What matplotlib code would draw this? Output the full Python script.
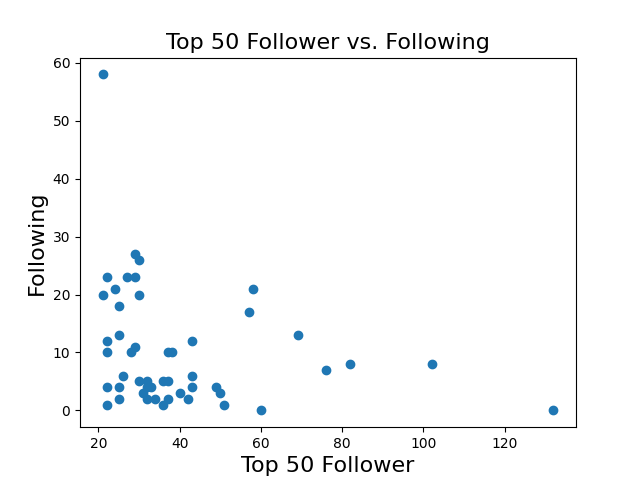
import matplotlib
matplotlib.use("Agg")
import matplotlib.pyplot as plt

follower = [21,22,29,30,27,29,24,21,30,25,57,58,69,76,82,102,132,60,
            22,25,22,28,29,37,38,43,
            26,22,25,30,32,36,37,43,43,49,50,
            22,25,31,32,33,32,34,37,36,40,42,51]
following = [58,23,27,26,23,23,21,20,20,18,17,21,13,7,8,8,0,0,
             12,13,10,10,11,10,10,12,
             6,4,4,5,5,5,5,6,4,4,3,
             1,2,3,4,4,2,2,2,1,3,2,1]

fig, ax = plt.subplots(figsize=(6.4, 4.8), dpi=100)
ax.scatter(follower, following)
ax.set_title("Top 50 Follower vs. Following", fontsize=16)
ax.set_xlabel("Top 50 Follower", fontsize=16)
ax.set_ylabel("Following", fontsize=16)
fig.savefig("out.png")
